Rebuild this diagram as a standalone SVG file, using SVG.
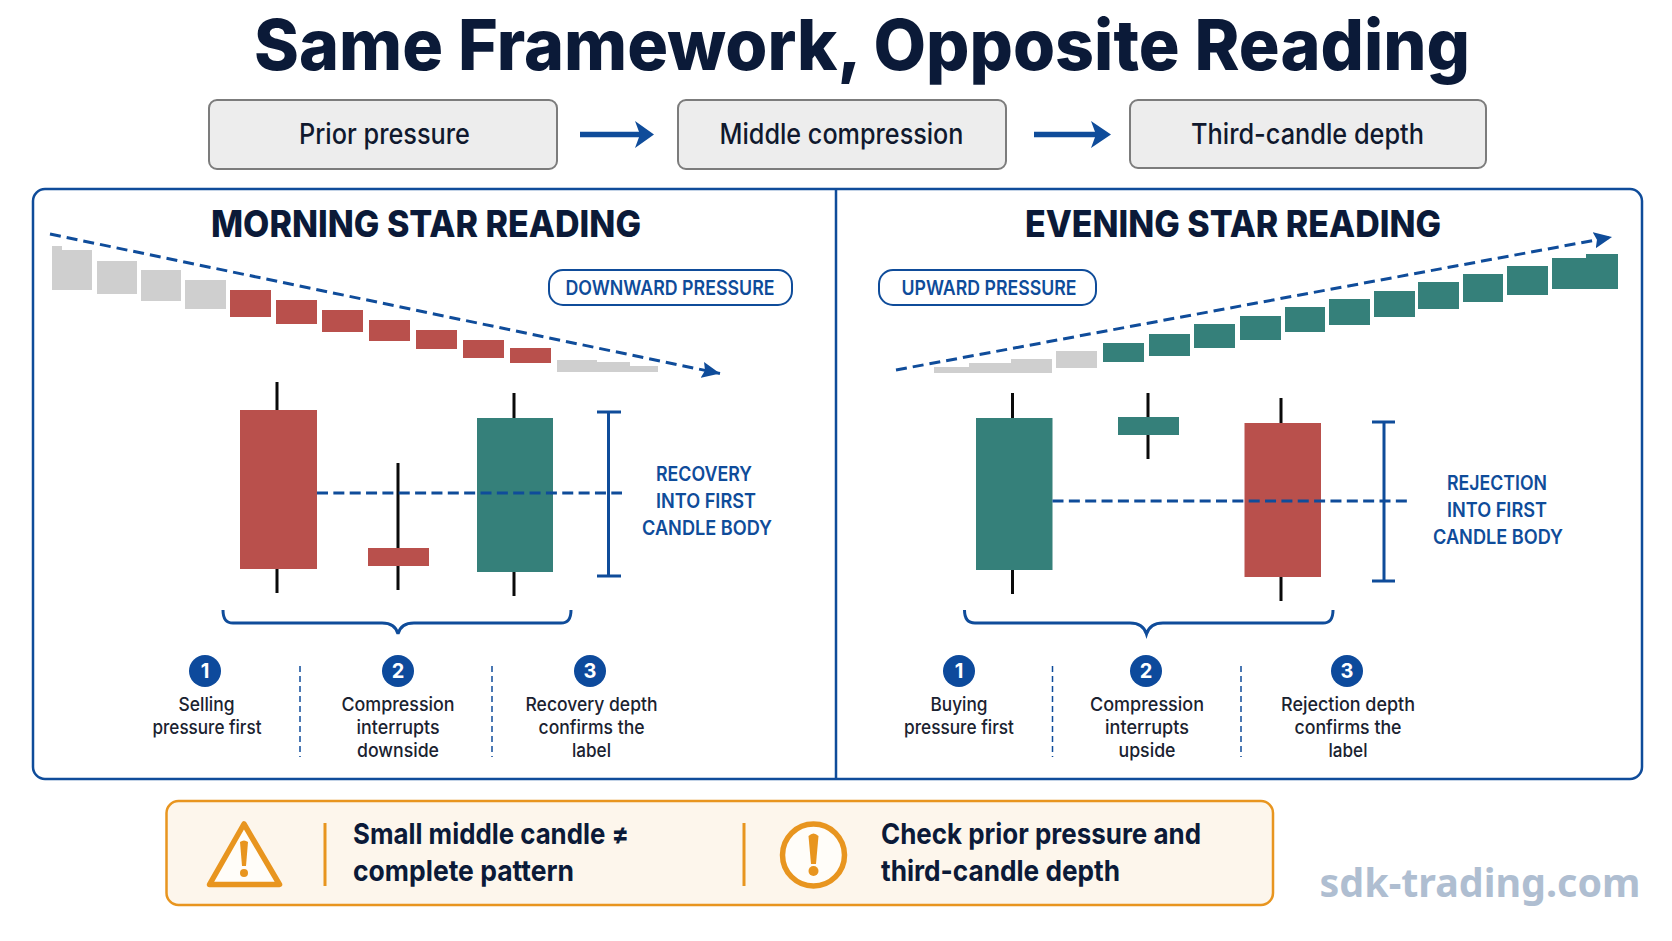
<svg xmlns="http://www.w3.org/2000/svg" width="1672" height="941" viewBox="0 0 1672 941">
<style>
text{font-family:"Inter","Liberation Sans",sans-serif;text-anchor:middle}
.title{font-size:70px;font-weight:800;fill:#0b1a38}
.step rect{fill:#ededed;stroke:#7c7c7c;stroke-width:2}
.step text{font-size:28px;font-weight:500;fill:#10192e}
.ph{font-size:36.500px;font-weight:800;fill:#0b1a38}
.pill{fill:#fff;stroke:#0f4c9a;stroke-width:2}
.pillt{font-size:20px;font-weight:600;fill:#0f4c9a}
.lab{font-size:20px;font-weight:600;fill:#0f4c9a}
.cap{font-size:18.500px;font-weight:500;fill:#1a2230}
.g{fill:#cfcfcf}.r{fill:#b9504c}.t{fill:#35807a}
.wick{stroke:#0a0a0a;stroke-width:3}
.dash{fill:none;stroke:#0f4c9a;stroke-width:3;stroke-dasharray:11 6}
.hd{fill:none;stroke:#0f4c9a;stroke-width:3;stroke-dasharray:11 5.350}
.br{fill:none;stroke:#0f4c9a;stroke-width:3}
.sep{stroke:#0f4c9a;stroke-width:1.500;stroke-dasharray:6 4}
.num circle{fill:#0d4a9c}.num text{font-size:20px;font-weight:700;fill:#fff}
.warn{font-size:29px;font-weight:700;fill:#0b1a38;text-anchor:start}
.o{fill:#fffdf9;stroke:#e8951f}
.of{fill:#e8951f}
</style>
<defs>
<marker id="tri" viewBox="0 0 10 10" refX="10" refY="5" markerWidth="18" markerHeight="18" markerUnits="userSpaceOnUse" orient="auto"><path d="M0 0.500L10 5L0 9.500L1.500 5Z" fill="#0f4c9a"/></marker>
</defs>
<rect width="1672" height="941" fill="#fff"/>
<text class="title" x="862" y="69.500" textLength="1216" lengthAdjust="spacingAndGlyphs">Same Framework, Opposite Reading</text>
<g id="step1" class="step"><rect x="209" y="100" width="348" height="69" rx="8"/><text x="384.500" y="144" textLength="171" lengthAdjust="spacingAndGlyphs">Prior pressure</text></g>
<g id="step2" class="step"><rect x="678" y="100" width="328" height="69" rx="8"/><text x="841.500" y="144" textLength="244" lengthAdjust="spacingAndGlyphs">Middle compression</text></g>
<g id="step3" class="step"><rect x="1130" y="100" width="356" height="68" rx="8"/><text x="1307.500" y="144" textLength="233" lengthAdjust="spacingAndGlyphs">Third-candle depth</text></g>
<g id="connectors">
<path d="M580 134.500H645" stroke="#0f4c9a" stroke-width="5.500" fill="none"/><path d="M635 121L654 134.500L635 148L640 134.500Z" fill="#0f4c9a"/>
<path d="M1034 134.500H1100" stroke="#0f4c9a" stroke-width="5.500" fill="none"/><path d="M1091 121L1111 134.500L1091 148L1096 134.500Z" fill="#0f4c9a"/>
</g>
<g id="panel"><rect x="33" y="189" width="1609" height="590" rx="12" fill="#fff" stroke="#0f4c9a" stroke-width="2.500"/><path d="M836 189V779" stroke="#0f4c9a" stroke-width="2.500"/></g>
<g id="morning">
<text class="ph" x="426" y="237" textLength="430" lengthAdjust="spacingAndGlyphs">MORNING STAR READING</text>
<path class="g" d="M52 246H62V250H92V290H52Z"/>
<rect class="g" x="97" y="261" width="40" height="33"/><rect class="g" x="141" y="270" width="40" height="31"/><rect class="g" x="185" y="280" width="41" height="29"/>
<rect class="r" x="230" y="290" width="41" height="27"/><rect class="r" x="276" y="300" width="41" height="24"/><rect class="r" x="322" y="310" width="41" height="22"/><rect class="r" x="369" y="320" width="41" height="21"/><rect class="r" x="416" y="330" width="41" height="19"/><rect class="r" x="463" y="340" width="41" height="18"/><rect class="r" x="510" y="348" width="41" height="15"/>
<rect class="g" x="557" y="360" width="40" height="12"/><rect class="g" x="597" y="362" width="33" height="10"/><rect class="g" x="623" y="366" width="35" height="6"/>
<path class="dash" d="M50 234L720 373.500" marker-end="url(#tri)"/>
<rect class="pill" x="549" y="270" width="243" height="35" rx="14"/><text class="pillt" x="670" y="295" textLength="209" lengthAdjust="spacingAndGlyphs">DOWNWARD PRESSURE</text>
<path class="wick" d="M277 382V593M398 463V590M514 393V596"/>
<rect class="r" x="240" y="410" width="77" height="159"/><rect class="r" x="368" y="548" width="61" height="18"/><rect class="t" x="477" y="418" width="76" height="154"/>
<path class="br" d="M597 412H621M608.500 412V576M597 576H621"/>
<path class="hd" d="M317 493H622"/>
<text class="lab" x="704" y="481" textLength="96" lengthAdjust="spacingAndGlyphs">RECOVERY</text><text class="lab" x="706" y="508" textLength="100" lengthAdjust="spacingAndGlyphs">INTO FIRST</text><text class="lab" x="707" y="535" textLength="130" lengthAdjust="spacingAndGlyphs">CANDLE BODY</text>
<path class="br" d="M223 610C223 619 226 623 233 623H382C390 623 396 626 398 634C400 626 406 623 414 623H561C568 623 571 619 571 610"/>
<g class="num"><circle cx="205" cy="671" r="16"/><text x="205" y="678">1</text></g><g class="num"><circle cx="398" cy="671" r="16"/><text x="398" y="678">2</text></g><g class="num"><circle cx="590" cy="671" r="16"/><text x="590" y="678">3</text></g>
<path class="sep" d="M300 666V757M492 666V757"/>
<text class="cap" x="206.500" y="711" textLength="56" lengthAdjust="spacingAndGlyphs">Selling</text><text class="cap" x="207" y="734" textLength="109" lengthAdjust="spacingAndGlyphs">pressure first</text>
<text class="cap" x="398" y="711" textLength="113" lengthAdjust="spacingAndGlyphs">Compression</text><text class="cap" x="398" y="734" textLength="83" lengthAdjust="spacingAndGlyphs">interrupts</text><text class="cap" x="398" y="757" textLength="82" lengthAdjust="spacingAndGlyphs">downside</text>
<text class="cap" x="591.500" y="711" textLength="132" lengthAdjust="spacingAndGlyphs">Recovery depth</text><text class="cap" x="591.500" y="734" textLength="106" lengthAdjust="spacingAndGlyphs">confirms the</text><text class="cap" x="591.500" y="757" textLength="39" lengthAdjust="spacingAndGlyphs">label</text>
</g>
<g id="evening">
<text class="ph" x="1233" y="237" textLength="416" lengthAdjust="spacingAndGlyphs">EVENING STAR READING</text>
<rect class="g" x="934" y="367" width="35" height="6"/><rect class="g" x="969" y="363" width="43" height="10"/><rect class="g" x="1011" y="359" width="41" height="14"/><rect class="g" x="1056" y="351" width="41" height="17"/>
<rect class="t" x="1103" y="343" width="41" height="19"/><rect class="t" x="1149" y="334" width="41" height="22"/><rect class="t" x="1194" y="324" width="41" height="24"/><rect class="t" x="1240" y="316" width="41" height="24"/><rect class="t" x="1285" y="307" width="40" height="25"/><rect class="t" x="1329" y="299" width="41" height="26"/><rect class="t" x="1374" y="291" width="41" height="26"/><rect class="t" x="1418" y="282" width="41" height="27"/><rect class="t" x="1463" y="274" width="40" height="28"/><rect class="t" x="1507" y="266" width="41" height="29"/>
<path class="t" d="M1552 258H1586V254H1618V289H1552Z"/>
<path class="dash" d="M896 370L1612 237" marker-end="url(#tri)"/>
<rect class="pill" x="879" y="270" width="217" height="35" rx="14"/><text class="pillt" x="989" y="295" textLength="175" lengthAdjust="spacingAndGlyphs">UPWARD PRESSURE</text>
<path class="wick" d="M1012.500 393V594M1148 393V459M1281 398V601"/>
<rect class="t" x="976" y="418" width="76.500" height="152"/><rect class="t" x="1118" y="417" width="61" height="18"/><rect class="r" x="1244.500" y="423" width="76.500" height="154"/>
<path class="br" d="M1372 422H1395M1384 422V581M1372 581H1395"/>
<path class="hd" d="M1052.500 501H1407"/>
<text class="lab" x="1497" y="490" textLength="100" lengthAdjust="spacingAndGlyphs">REJECTION</text><text class="lab" x="1497" y="517" textLength="100" lengthAdjust="spacingAndGlyphs">INTO FIRST</text><text class="lab" x="1498" y="544" textLength="130" lengthAdjust="spacingAndGlyphs">CANDLE BODY</text>
<path class="br" d="M964.500 610C964.500 619 968 623 975 623H1130C1138 623 1144 626 1146.500 634C1149 626 1155 623 1163 623H1323C1330 623 1333 619 1333 610"/>
<g class="num"><circle cx="959" cy="671" r="16"/><text x="959" y="678">1</text></g><g class="num"><circle cx="1146" cy="671" r="16"/><text x="1146" y="678">2</text></g><g class="num"><circle cx="1347" cy="671" r="16"/><text x="1347" y="678">3</text></g>
<path class="sep" d="M1052.500 666V757M1241 666V757"/>
<text class="cap" x="959" y="711" textLength="57" lengthAdjust="spacingAndGlyphs">Buying</text><text class="cap" x="959" y="734" textLength="110" lengthAdjust="spacingAndGlyphs">pressure first</text>
<text class="cap" x="1147" y="711" textLength="114" lengthAdjust="spacingAndGlyphs">Compression</text><text class="cap" x="1147" y="734" textLength="84" lengthAdjust="spacingAndGlyphs">interrupts</text><text class="cap" x="1147" y="757" textLength="57" lengthAdjust="spacingAndGlyphs">upside</text>
<text class="cap" x="1348" y="711" textLength="134" lengthAdjust="spacingAndGlyphs">Rejection depth</text><text class="cap" x="1348" y="734" textLength="107" lengthAdjust="spacingAndGlyphs">confirms the</text><text class="cap" x="1348" y="757" textLength="39" lengthAdjust="spacingAndGlyphs">label</text>
</g>
<g id="warning">
<rect x="166.500" y="801" width="1106.500" height="104" rx="12" fill="#fdf6ec" stroke="#e8951f" stroke-width="2.500"/>
<path class="o" stroke-width="5.500" stroke-linejoin="round" d="M244 824L279.500 884.500H209.500Z"/>
<path class="of" d="M240 842Q244 839 248 842L246 866H242Z"/><circle class="of" cx="244" cy="873" r="4"/>
<path d="M325 823V886M744 823V886" stroke="#e8951f" stroke-width="3"/>
<text class="warn" x="353" y="844" textLength="276" lengthAdjust="spacingAndGlyphs">Small middle candle ≠</text><text class="warn" x="353" y="881" textLength="221" lengthAdjust="spacingAndGlyphs">complete pattern</text>
<circle class="o" cx="813.500" cy="855" r="31" stroke-width="5.500"/>
<path class="of" d="M808.500 836Q813.500 831 818.500 836L816 864H811Z"/><circle class="of" cx="813.500" cy="871" r="5"/>
<text class="warn" x="881" y="844" textLength="320" lengthAdjust="spacingAndGlyphs">Check prior pressure and</text><text class="warn" x="881" y="881" textLength="239" lengthAdjust="spacingAndGlyphs">third-candle depth</text>
</g>
<text id="watermark" x="1480" y="897" font-size="40" font-weight="700" fill="#afbed1" style="font-family:'Noto Sans','Liberation Sans',sans-serif" textLength="321" lengthAdjust="spacingAndGlyphs">sdk-trading.com</text>
</svg>
